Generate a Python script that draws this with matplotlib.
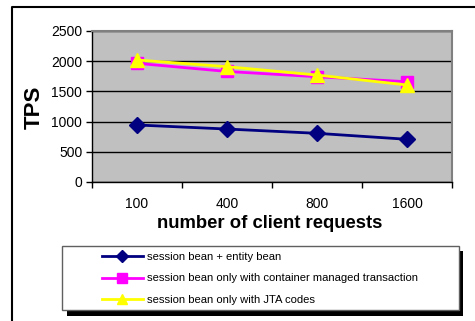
import matplotlib
matplotlib.use("Agg")
import matplotlib.pyplot as plt
from matplotlib.lines import Line2D
from matplotlib.patches import Rectangle

plt.rcParams['font.family'] = ['Liberation Sans', 'DejaVu Sans']

requests = ['100', '400', '800', '1600']
entity_bean = [944, 877, 806, 707]
container_tx = [1965, 1830, 1743, 1660]
jta_codes = [2020, 1909, 1771, 1606]

W, H = 475, 321
fig = plt.figure(figsize=(W / 100, H / 100), dpi=100)


def fx(px):
    return px / W


def fy(py):
    return 1 - py / H


ax = fig.add_axes([fx(92), fy(182), fx(452) - fx(92), fy(31) - fy(182)])
ax.set_facecolor('#c0c0c0')
xs = list(range(len(requests)))

ax.plot(xs, entity_bean, color='#000080', lw=2, marker='D', ms=8,
        label='session bean + entity bean')
ax.plot(xs, container_tx, color='#ff00ff', lw=2, marker='s', ms=9,
        label='session bean only with container managed transaction')
ax.plot(xs, jta_codes, color='#ffff00', lw=2, marker='^', ms=10,
        label='session bean only with JTA codes')

ax.set_xlim(-0.5, len(requests) - 0.5)
ax.set_ylim(0, 2500)
ax.set_yticks(range(0, 2501, 500))
ax.yaxis.grid(True, color='black', lw=1)
ax.set_axisbelow(True)

# category boundaries get the tick marks, labels sit in the middle
ax.set_xticks([i - 0.5 for i in range(len(requests) + 1)])
ax.set_xticklabels([])
ax.set_xticks(xs, minor=True)
ax.set_xticklabels(requests, minor=True)
ax.tick_params(axis='x', which='minor', length=0, pad=11, labelsize=10)
ax.tick_params(axis='x', which='major', length=4, width=1, direction='out')
ax.tick_params(axis='y', length=4, width=1, pad=3, labelsize=10)

for side in ['top', 'right']:
    ax.spines[side].set_color('#808080')
    ax.spines[side].set_linewidth(1.5)
for side in ['left', 'bottom']:
    ax.spines[side].set_color('black')
    ax.spines[side].set_linewidth(1)

fig.text(fx(34), fy(107), 'TPS', rotation=90, fontsize=16, fontweight='bold',
         ha='center', va='center')
fig.text(fx(270), fy(223), 'number of client requests', fontsize=13.3,
         fontweight='bold', ha='center', va='center')

# outer chart frame (left and top edges)
fig.add_artist(Line2D([fx(12), fx(12), fx(475)], [0, fy(7), fy(7)],
                      color='black', lw=1.5))

# legend box with a solid drop shadow
fig.add_artist(Rectangle((fx(67), fy(316)), fx(396) - fx(0), fy(251) - fy(316),
                         facecolor='black', edgecolor='none'))
fig.add_artist(Rectangle((fx(62), fy(310)), fx(397) - fx(0), fy(246) - fy(310),
                         facecolor='white', edgecolor='#606060', lw=1))
handles, labels = ax.get_legend_handles_labels()
fig.legend(handles, labels, loc='upper left', bbox_to_anchor=(fx(96), fy(246)),
           frameon=False, fontsize=8.1, handlelength=3.6, handletextpad=0.4,
           labelspacing=1.0, borderpad=0.55, borderaxespad=0, markerscale=0.75)

fig.savefig('out.png', dpi=100)
